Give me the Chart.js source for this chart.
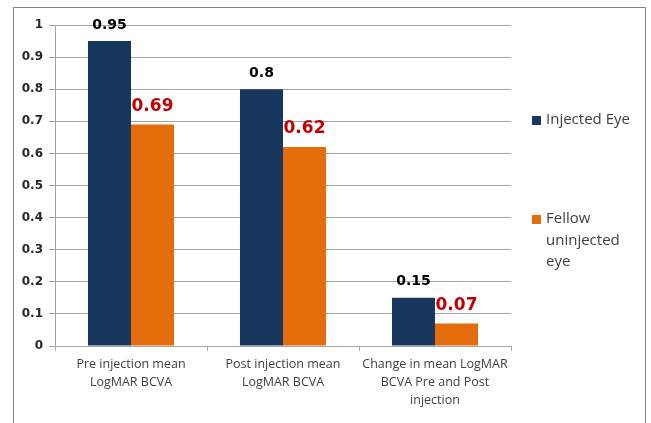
<!DOCTYPE html>
<html>
<head>
<meta charset="utf-8">
<script src="https://cdn.jsdelivr.net/npm/chart.js@4"></script>
<style>
  html, body { margin: 0; padding: 0; background: #fff; }
  #wrap { width: 651px; height: 423px; position: relative; }
</style>
</head>
<body>
<div id="wrap"><canvas id="chart" width="651" height="423"></canvas></div>
<script>
// -> Daten
const categories = [
  ["Pre injection mean", "LogMAR BCVA"],
  ["Post injection mean", "LogMAR BCVA"],
  ["Change in mean LogMAR", "BCVA Pre and Post", "injection"]
];
const injectedEye = [0.95, 0.8, 0.15];
const fellowEye = [0.69, 0.62, 0.07];
const seriesNames = ["Injected Eye", "Fellow uninjected eye"];
const legendLines = [["Injected Eye"], ["Fellow", "uninjected", "eye"]];
const yTicks = [0, 0.1, 0.2, 0.3, 0.4, 0.5, 0.6, 0.7, 0.8, 0.9, 1];

const navy = "#17375e";
const orange = "#e46c0a";
const gridGray = "#a6a6a6";
const textGray = "#404040";

// -> Rahmen um das ganze Diagramm
const framePlugin = {
  id: "frame",
  beforeDraw(chart) {
    const ctx = chart.ctx;
    ctx.save();
    ctx.fillStyle = "#fff";
    ctx.fillRect(0, 0, chart.width, chart.height);
    ctx.strokeStyle = "#868686";
    ctx.lineWidth = 1;
    ctx.strokeRect(13.5, 7.5, 632, 430);
    ctx.restore();
  }
};

// -> Werte über den Balken
const valueLabels = {
  id: "valueLabels",
  afterDatasetsDraw(chart) {
    const ctx = chart.ctx;
    ctx.save();
    ctx.textAlign = "center";
    ctx.textBaseline = "middle";
    chart.data.datasets.forEach((ds, i) => {
      const meta = chart.getDatasetMeta(i);
      meta.data.forEach((bar, j) => {
        let offset = 16;
        if (i === 0) {
          ctx.font = "bold 14px 'DejaVu Sans', sans-serif";
          ctx.fillStyle = "#000";
        } else {
          ctx.font = "bold 17px 'DejaVu Sans', sans-serif";
          ctx.fillStyle = "#c00000";
          offset = 18;
        }
        ctx.fillText(String(ds.data[j]), bar.x, bar.y - offset);
      });
    });
    ctx.restore();
  }
};

// -> Legende rechts, mit Zeilenumbruch
const sideLegend = {
  id: "sideLegend",
  afterDraw(chart) {
    const ctx = chart.ctx;
    const tops = [120, 219];
    ctx.save();
    ctx.font = "15px 'Open Sans', sans-serif";
    ctx.textBaseline = "middle";
    ctx.textAlign = "left";
    chart.data.datasets.forEach((ds, i) => {
      const y = tops[i];
      ctx.fillStyle = ds.backgroundColor;
      ctx.fillRect(532, y - 4, 9, 9);
      ctx.fillStyle = textGray;
      legendLines[i].forEach((line, k) => {
        ctx.fillText(line, 546, y + k * 21.5);
      });
    });
    ctx.restore();
  }
};

const canvas = document.querySelector("#chart");

const chart = new Chart(canvas, {
  type: "bar",
  data: {
    labels: categories,
    datasets: [
      {
        label: seriesNames[0],
        data: injectedEye,
        backgroundColor: navy,
        borderWidth: 0
      },
      {
        label: seriesNames[1],
        data: fellowEye,
        backgroundColor: orange,
        borderWidth: 0
      }
    ]
  },
  options: {
    responsive: false,
    animation: false,
    layout: {
      padding: { top: 25, right: 140, bottom: 0, left: 0 }
    },
    plugins: {
      legend: { display: false },
      tooltip: { enabled: false }
    },
    datasets: {
      bar: {
        barPercentage: 1,
        categoryPercentage: 0.566
      }
    },
    scales: {
      x: {
        afterFit(scale) { scale.height = 77; },
        grid: {
          drawOnChartArea: false,
          drawTicks: true,
          tickLength: 5,
          color: gridGray
        },
        border: { color: gridGray },
        ticks: {
          color: textGray,
          padding: 4,
          font: { family: "'Open Sans', sans-serif", size: 12.5, lineHeight: 1.44 }
        }
      },
      y: {
        min: 0,
        max: 1,
        afterFit(scale) { scale.width = 55; },
        afterBuildTicks(scale) {
          scale.ticks = yTicks.map(v => ({ value: v }));
        },
        grid: {
          color: gridGray,
          tickLength: 6
        },
        border: { color: gridGray },
        ticks: {
          color: "#262626",
          padding: 6,
          font: { family: "'DejaVu Sans', sans-serif", size: 12, weight: "bold" },
          callback: v => String(Math.round(v * 10) / 10)
        }
      }
    }
  },
  plugins: [framePlugin, valueLabels, sideLegend]
});
</script>
</body>
</html>
